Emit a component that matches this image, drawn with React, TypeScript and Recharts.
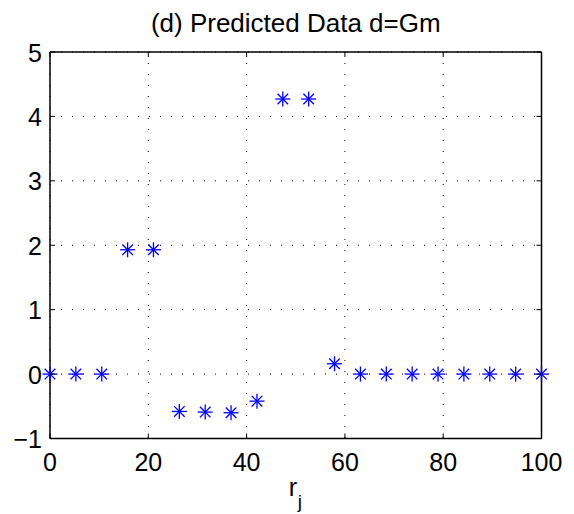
import { ScatterChart, Scatter, XAxis, YAxis, CartesianGrid } from 'recharts';

const rValues = [
  0, 5.26, 10.53, 15.79, 21.05, 26.32, 31.58, 36.84, 42.11, 47.37, 52.63, 57.89, 63.16, 68.42, 73.68,
  78.95, 84.21, 89.47, 94.74, 100,
];
const dValues = [0, 0, 0, 1.93, 1.93, -0.58, -0.59, -0.6, -0.42, 4.27, 4.27, 0.16, 0, 0, 0, 0, 0, 0, 0, 0];
const xTicks = [0, 20, 40, 60, 80, 100];
const yTicks = [-1, 0, 1, 2, 3, 4, 5];

const data = rValues.map((r, i) => ({ r, d: dValues[i] }));

const FONT = '"Liberation Sans", Arial, Helvetica, sans-serif';
const BLUE = '#0000FF';
const TICK_LEN = 5;
const TICK_FONT = 25;

const fmt = (v: number) => (v < 0 ? `\u2212${Math.abs(v)}` : String(v));

function BottomTick({ x, y, payload }: any) {
  return (
    <g>
      <line x1={x} y1={y} x2={x} y2={y - TICK_LEN} stroke="#000" strokeWidth={1} />
      <text x={x} y={y + 32} textAnchor="middle" fontSize={TICK_FONT} fontFamily={FONT} fill="#000">
        {fmt(payload.value)}
      </text>
    </g>
  );
}

function LeftTick({ x, y, payload }: any) {
  return (
    <g>
      <line x1={x} y1={y} x2={x + TICK_LEN} y2={y} stroke="#000" strokeWidth={1} />
      <text x={x - 8} y={y + 9.5} textAnchor="end" fontSize={TICK_FONT} fontFamily={FONT} fill="#000">
        {fmt(payload.value)}
      </text>
    </g>
  );
}

function TopTick({ x, y }: any) {
  return <line x1={x} y1={y} x2={x} y2={y + TICK_LEN} stroke="#000" strokeWidth={1} />;
}

function RightTick({ x, y }: any) {
  return <line x1={x} y1={y} x2={x - TICK_LEN} y2={y} stroke="#000" strokeWidth={1} />;
}

function Asterisk({ cx, cy }: any) {
  const a = 7.5;
  const b = 5.3;
  return (
    <g stroke={BLUE} strokeWidth={1.3}>
      <line x1={cx - a} y1={cy} x2={cx + a} y2={cy} />
      <line x1={cx} y1={cy - a} x2={cx} y2={cy + a} />
      <line x1={cx - b} y1={cy - b} x2={cx + b} y2={cy + b} />
      <line x1={cx - b} y1={cy + b} x2={cx + b} y2={cy - b} />
    </g>
  );
}

function TitleLabel({ viewBox }: any) {
  return (
    <text
      x={viewBox.x + viewBox.width / 2}
      y={viewBox.y + viewBox.height - 20}
      textAnchor="middle"
      fontSize={26}
      fontFamily={FONT}
      fill="#000"
    >
      (d) Predicted Data d=Gm
    </text>
  );
}

function XLabel({ viewBox }: any) {
  const cx = viewBox.x + viewBox.width / 2;
  return (
    <g fontFamily={FONT} fill="#000">
      <text x={cx - 7} y={viewBox.y + 57.5} fontSize={TICK_FONT}>
        r
      </text>
      <text x={cx + 2} y={viewBox.y + 69.5} fontSize={19}>
        j
      </text>
    </g>
  );
}

export default function App() {
  return (
    <div style={{ position: 'absolute', left: 0, top: 0, background: '#fff' }}>
      <ScatterChart width={574} height={514} margin={{ top: 22, right: 22.5, bottom: 15.5, left: 0 }}>
        <CartesianGrid stroke="#000" strokeDasharray="1 10" strokeWidth={1} />
        <XAxis
          dataKey="r"
          type="number"
          domain={[0, 100]}
          ticks={xTicks}
          interval={0}
          height={60}
          tickSize={0}
          tickMargin={0}
          tickLine={false}
          axisLine={{ stroke: '#000', strokeWidth: 1.5 }}
          tick={<BottomTick />}
          label={{ content: <XLabel /> }}
        />
        <XAxis
          xAxisId="top"
          orientation="top"
          dataKey="r"
          type="number"
          domain={[0, 100]}
          ticks={xTicks}
          interval={0}
          height={30}
          tickSize={0}
          tickMargin={0}
          tickLine={false}
          axisLine={{ stroke: '#000', strokeWidth: 1.5 }}
          tick={<TopTick />}
          label={{ content: <TitleLabel /> }}
        />
        <YAxis
          dataKey="d"
          type="number"
          domain={[-1, 5]}
          ticks={yTicks}
          interval={0}
          width={50}
          tickSize={0}
          tickMargin={0}
          tickLine={false}
          axisLine={{ stroke: '#000', strokeWidth: 1.5 }}
          tick={<LeftTick />}
        />
        <YAxis
          yAxisId="right"
          orientation="right"
          dataKey="d"
          type="number"
          domain={[-1, 5]}
          ticks={yTicks}
          interval={0}
          width={10}
          tickSize={0}
          tickMargin={0}
          tickLine={false}
          axisLine={{ stroke: '#000', strokeWidth: 1.5 }}
          tick={<RightTick />}
        />
        <Scatter
          data={data}
          xAxisId="top"
          yAxisId="right"
          shape={() => <g />}
          isAnimationActive={false}
        />
        <Scatter data={data} fill={BLUE} shape={<Asterisk />} isAnimationActive={false} />
      </ScatterChart>
    </div>
  );
}
